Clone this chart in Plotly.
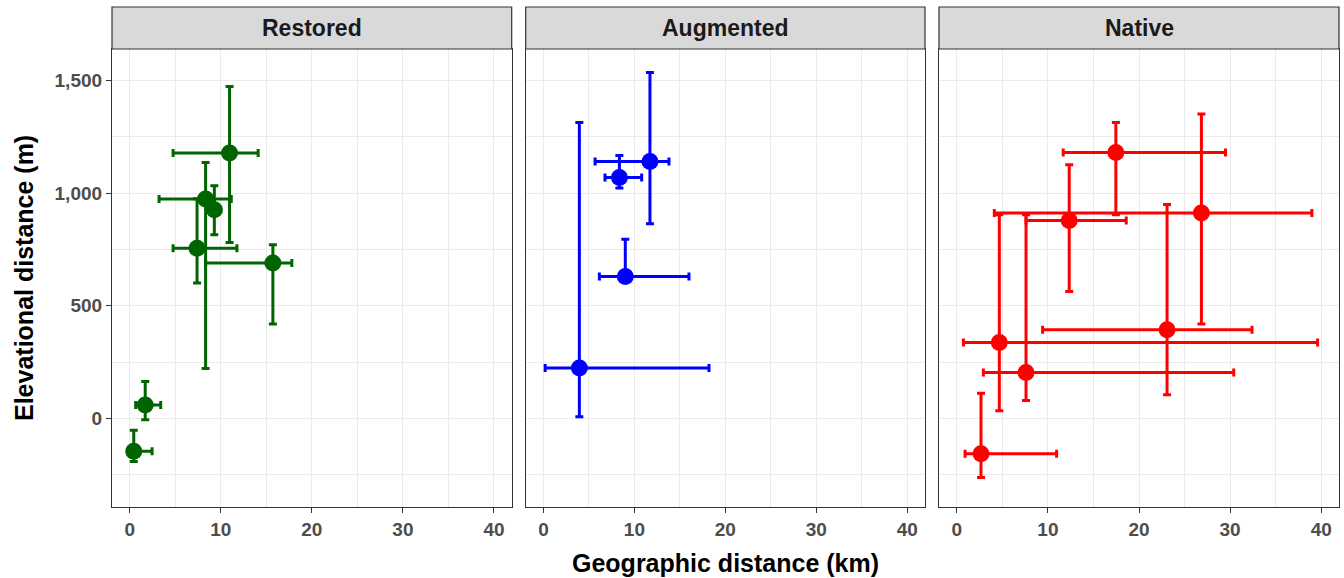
import plotly.graph_objects as go

panels = ["Restored", "Augmented", "Native"]
colors = ["#006400", "#0000FF", "#FF0000"]

# Restored
res_x = [10.96, 8.33, 9.29, 7.39, 15.72, 1.70, 0.44]
res_x_lo = [4.76, 3.22, 8.6, 4.76, 8.33, 0.65, 0.1]
res_x_hi = [14.1, 11.15, 10.0, 11.77, 17.8, 3.4, 2.45]
res_y = [1178, 974, 926, 756, 690, 60, -146]
res_y_lo = [781, 222, 815, 601, 419, -6, -191]
res_y_hi = [1474, 1136, 1033, 975, 771, 164, -52]

# Augmented
aug_x = [3.95, 11.71, 8.35, 9.0]
aug_x_lo = [0.19, 5.68, 6.77, 6.15]
aug_x_hi = [18.2, 13.8, 10.8, 16.0]
aug_y = [224, 1141, 1070, 630]
aug_y_lo = [8, 864, 1023, 610]
aug_y_hi = [1314, 1536, 1167, 796]

# Native
nat_x = [17.46, 26.85, 12.34, 23.08, 4.67, 7.6, 2.66]
nat_x_lo = [11.68, 4.12, 7.6, 9.42, 0.73, 2.92, 0.91]
nat_x_hi = [29.5, 38.97, 18.6, 32.4, 39.6, 30.4, 10.96]
nat_y = [1181, 912, 879, 394, 337, 204, -157]
nat_y_lo = [904, 419, 564, 105, 34, 80, -262]
nat_y_hi = [1314, 1352, 1126, 950, 904, 904, 112]

x_ticks = [0, 10, 20, 30, 40]
y_ticks = [0, 500, 1000, 1500]

groups = [
    (res_x, res_x_lo, res_x_hi, res_y, res_y_lo, res_y_hi),
    (aug_x, aug_x_lo, aug_x_hi, aug_y, aug_y_lo, aug_y_hi),
    (nat_x, nat_x_lo, nat_x_hi, nat_y, nat_y_lo, nat_y_hi),
]

W, H = 1344, 578
ml, mr, mt, mb = 112, 5, 49, 71
pw = W - ml - mr
px = [(112.0, 511.7), (525.7, 925.0), (939.0, 1339.0)]
domains = [[max(0.0, (a - ml) / pw), min(1.0, (b - ml) / pw)] for a, b in px]
ph = H - mt - mb
strip_h = 42 / ph

fig = go.Figure()
font_family = "Liberation Sans, Arial, sans-serif"

for i, (g, col) in enumerate(zip(groups, colors)):
    x, xlo, xhi, y, ylo, yhi = g
    ax = "" if i == 0 else str(i + 1)
    fig.add_trace(go.Scatter(
        x=x, y=y, mode="markers",
        marker=dict(color=col, size=17),
        error_x=dict(type="data", symmetric=False,
                     array=[h - v for h, v in zip(xhi, x)],
                     arrayminus=[v - l for l, v in zip(xlo, x)],
                     color=col, thickness=3, width=4),
        error_y=dict(type="data", symmetric=False,
                     array=[h - v for h, v in zip(yhi, y)],
                     arrayminus=[v - l for l, v in zip(ylo, y)],
                     color=col, thickness=3, width=4),
        xaxis="x" + ax, yaxis="y" + ax, showlegend=False,
        hoverinfo="skip",
    ))
    axis_common = dict(
        showline=True, linecolor="#333333", linewidth=1.2, mirror=True,
        gridcolor="#EBEBEB", gridwidth=1.3, zeroline=False,
        ticks="outside", ticklen=5, tickcolor="#333333", tickwidth=1.2,
        tickfont=dict(family=font_family, size=19, color="#4D4D4D", weight="bold"),
    )
    xa = dict(axis_common, domain=domains[i], range=[-1.95, 41.95],
              tickmode="array", tickvals=x_ticks, ticktext=[str(v) for v in x_ticks],
              minor=dict(dtick=5, tick0=0, showgrid=True, gridcolor="#EBEBEB", gridwidth=1.0, ticks=""),
              anchor="y" + ax)
    ya = dict(axis_common, domain=[0, 1], range=[-393, 1640],
              tickmode="array", tickvals=y_ticks, ticktext=[f"{v:,}" for v in y_ticks],
              minor=dict(dtick=250, tick0=0, showgrid=True, gridcolor="#EBEBEB", gridwidth=1.0, ticks=""),
              anchor="x" + ax, showticklabels=(i == 0))
    if i > 0:
        ya["ticks"] = ""
    fig.update_layout(**{"xaxis" + ax: xa, "yaxis" + ax: ya})
    # strip
    fig.add_shape(type="rect", xref="paper", yref="paper",
                  x0=domains[i][0], x1=domains[i][1], y0=1, y1=1 + strip_h,
                  fillcolor="#D9D9D9", line=dict(color="#333333", width=1.2))
    fig.add_annotation(xref="paper", yref="paper",
                       x=(domains[i][0] + domains[i][1]) / 2, y=1 + strip_h / 2,
                       text=panels[i], showarrow=False, xanchor="center", yanchor="middle",
                       font=dict(family=font_family, size=23, color="#1A1A1A", weight="bold"))

fig.add_annotation(xref="paper", yref="paper", x=(domains[0][0] + domains[2][1]) / 2,
                   y=-(563 - (H - mb)) / ph, yanchor="middle", xanchor="center",
                   text="Geographic distance (km)", showarrow=False,
                   font=dict(family=font_family, size=25, color="#000000", weight="bold"))
fig.add_annotation(xref="paper", yref="paper", x=-(ml - 24) / pw, y=0.5,
                   xanchor="center", yanchor="middle", textangle=-90,
                   text="Elevational distance (m)", showarrow=False,
                   font=dict(family=font_family, size=25, color="#000000", weight="bold"))

fig.update_layout(width=W, height=H, margin=dict(l=ml, r=mr, t=mt, b=mb),
                  paper_bgcolor="white", plot_bgcolor="white",
                  font=dict(family=font_family))

fig.write_html("out.html", config={"displayModeBar": False},
               post_script="document.body.style.margin='0px';document.body.style.overflow='hidden';")
